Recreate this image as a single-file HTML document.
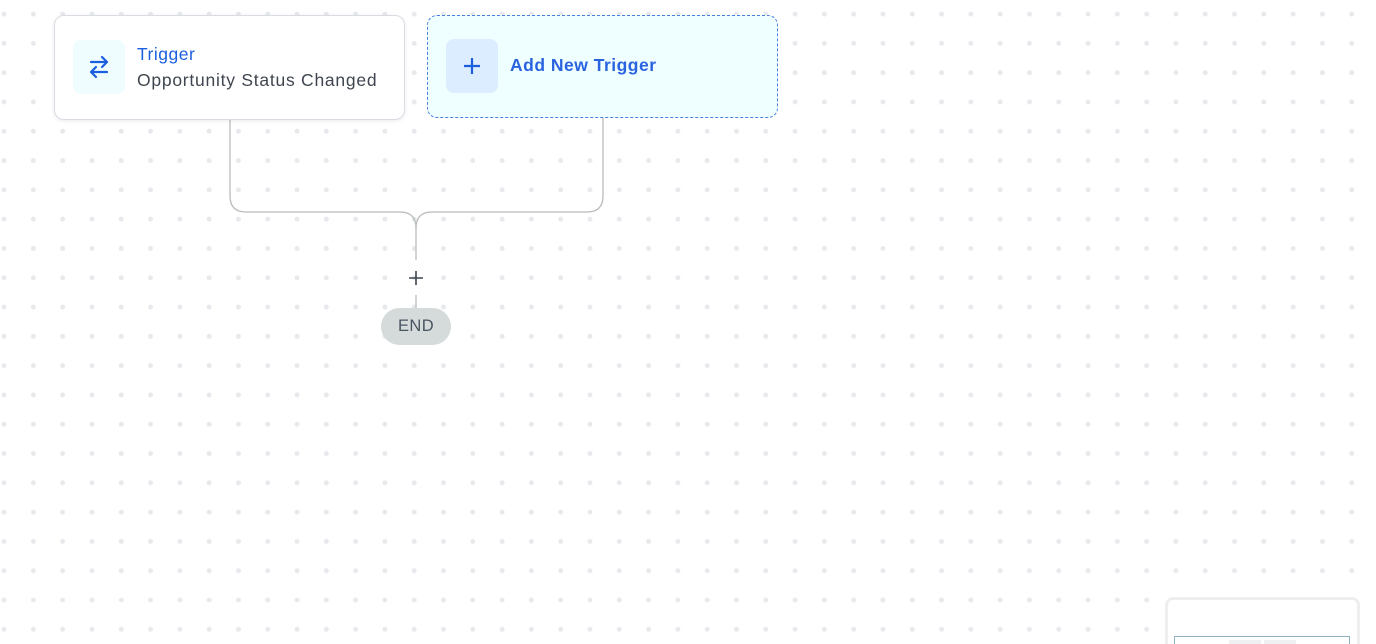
<!DOCTYPE html>
<html><head><style>
html,body{margin:0;padding:0;width:1376px;height:644px;overflow:hidden}
body{position:relative;font-family:"Liberation Sans",sans-serif;
background-color:#fff;background-image:radial-gradient(circle,#e7e9ec 2.2px,transparent 2.7px);background-size:29.3px 29.3px;background-position:-10.6px -0.6px}
.card{position:absolute;box-sizing:border-box;border-radius:10px}
.c1{left:54px;top:15px;width:351px;height:105px;background:#fff;border:1px solid #d9dce3;box-shadow:0 1px 4px rgba(0,0,0,.08)}
.c2{left:427px;top:15px;width:351px;height:103px;background:#effeff;border:1px dashed #4a7fe0}
.ib{position:absolute;border-radius:8px}
.t{position:absolute;white-space:nowrap}
</style></head><body>
<svg width="1376" height="644" style="position:absolute;left:0;top:0">
<g fill="none" stroke="#b9bcbc" stroke-width="1.3">
<path d="M230 120 V196 Q230 212 246 212 H400 Q416 212 416 228 V260"/>
<path d="M603 117 V196 Q603 212 587 212 H432 Q416 212 416 228"/>
<path d="M416 295 V308"/>
</g>
<path d="M409 278 H423 M416 271 V285" stroke="#3d4450" stroke-width="1.6"/>
</svg>
<div class="card c1">
<div class="ib" style="left:18px;top:24px;width:52px;height:54px;background:#effdff"></div>
<svg style="position:absolute;left:32px;top:38px" width="24" height="26" viewBox="0 0 24 26"><g fill="none" stroke="#1b5fe0" stroke-width="2.2" stroke-linecap="round" stroke-linejoin="round"><path d="M4 8 H20 M15 3 L20 8 L15 13"/><path d="M20 18 H4 M9 13 L4 18 L9 23"/></g></svg>
<div class="t" style="left:82px;top:28px;font-size:17.5px;letter-spacing:0.5px;color:#1b5fe0">Trigger</div>
<div class="t" style="left:82px;top:54px;font-size:17.5px;letter-spacing:0.75px;color:#3f4650">Opportunity Status Changed</div>
</div>
<div class="card c2">
<div class="ib" style="left:18px;top:23px;width:52px;height:54px;background:#dcedff"></div>
<svg style="position:absolute;left:34px;top:40px" width="20" height="20"><path d="M10 2 V18 M2 10 H18" stroke="#1b5fe0" stroke-width="2.2"/></svg>
<div class="t" style="left:82px;top:39px;font-size:17.5px;letter-spacing:0.5px;font-weight:bold;color:#2a63e0">Add New Trigger</div>
</div>
<div style="position:absolute;left:381px;top:308px;width:70px;height:37px;border-radius:19px;background:#d5dbdb;color:#4a5563;font-size:16.5px;letter-spacing:0.4px;text-align:center;line-height:37px">END</div>
<div style="position:absolute;left:1165px;top:597px;width:195px;height:60px;border-radius:8px;background:#fff;border:3px solid #eceef0;box-sizing:border-box"></div>
<div style="position:absolute;left:1174px;top:636px;width:176px;height:20px;border:1px solid #8fb3c0;box-sizing:border-box"></div>
<div style="position:absolute;left:1229px;top:640px;width:32px;height:10px;background:#eef0f2"></div>
<div style="position:absolute;left:1264px;top:640px;width:32px;height:10px;background:#eef0f2"></div>
</body></html>
